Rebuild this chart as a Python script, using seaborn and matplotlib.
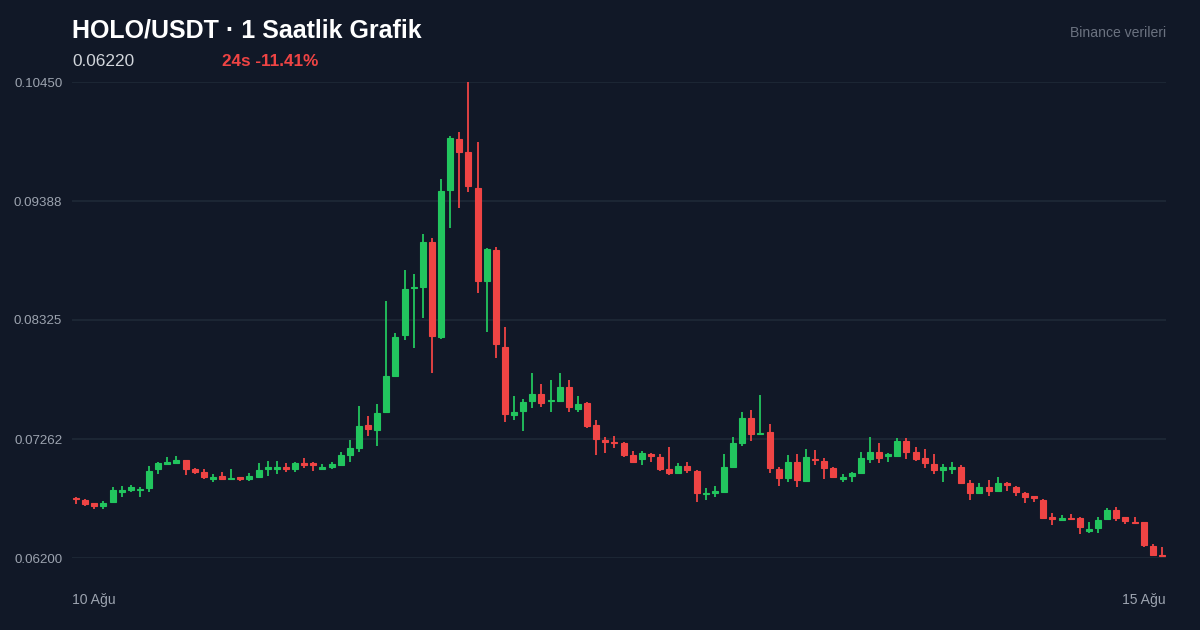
import matplotlib
matplotlib.use("Agg")
import matplotlib.pyplot as plt
import seaborn as sns
import numpy as np
import pandas as pd

# HOLO/USDT hourly candles, 10-15 Aug
opens = [0.06740, 0.06718, 0.06687, 0.06664, 0.06700, 0.06789, 0.06803, 0.06803, 0.06822, 0.06992,
         0.07042, 0.07051, 0.07072, 0.06992, 0.06971, 0.06903, 0.06932, 0.06903, 0.06921, 0.06903,
         0.06921, 0.06992, 0.06992, 0.07015, 0.06992, 0.07051, 0.07046, 0.06995, 0.07015, 0.07030,
         0.07120, 0.07185, 0.07388, 0.07343, 0.07501, 0.07825, 0.08191, 0.08608, 0.08622, 0.09019,
         0.08171, 0.09486, 0.09939, 0.09828, 0.09506, 0.08676, 0.08950, 0.08087, 0.07477, 0.07515,
         0.07605, 0.07664, 0.07599, 0.07605, 0.07724, 0.07533, 0.07581, 0.07385, 0.07254, 0.07238,
         0.07230, 0.07120, 0.07081, 0.07126, 0.07099, 0.06992, 0.06962, 0.07021, 0.06980, 0.06771,
         0.06783, 0.06792, 0.07010, 0.07230, 0.07447, 0.07307, 0.07328, 0.06995, 0.06912, 0.07060,
         0.06890, 0.07087, 0.07069, 0.07001, 0.06903, 0.06932, 0.06962, 0.07084, 0.07149, 0.07111,
         0.07113, 0.07247, 0.07149, 0.07090, 0.07039, 0.06986, 0.06995, 0.07010, 0.06867, 0.06778,
         0.06831, 0.06801, 0.06872, 0.06837, 0.06778, 0.06754, 0.06718, 0.06569, 0.06539, 0.06560,
         0.06560, 0.06444, 0.06465, 0.06546, 0.06629, 0.06563, 0.06524, 0.06519, 0.06307, 0.06227]
highs = [0.06742, 0.06731, 0.06691, 0.06709, 0.06831, 0.06843, 0.06852, 0.06831, 0.07021, 0.07053,
         0.07099, 0.07111, 0.07075, 0.07004, 0.06992, 0.06950, 0.06968, 0.06992, 0.06923, 0.06962,
         0.07051, 0.07069, 0.07069, 0.07051, 0.07060, 0.07090, 0.07060, 0.07039, 0.07060, 0.07149,
         0.07254, 0.07560, 0.07468, 0.07572, 0.08497, 0.08212, 0.08772, 0.08733, 0.09090, 0.09060,
         0.09581, 0.09971, 0.10001, 0.10450, 0.09917, 0.08971, 0.08980, 0.08260, 0.07649, 0.07620,
         0.07849, 0.07751, 0.07789, 0.07849, 0.07789, 0.07649, 0.07590, 0.07432, 0.07278, 0.07289,
         0.07232, 0.07158, 0.07158, 0.07135, 0.07129, 0.07188, 0.07051, 0.07060, 0.06982, 0.06822,
         0.06843, 0.07129, 0.07278, 0.07501, 0.07521, 0.07653, 0.07394, 0.07015, 0.07120, 0.07129,
         0.07171, 0.07164, 0.07090, 0.07015, 0.06950, 0.06971, 0.07149, 0.07278, 0.07230, 0.07135,
         0.07269, 0.07269, 0.07188, 0.07171, 0.07129, 0.07039, 0.07060, 0.07030, 0.06896, 0.06867,
         0.06896, 0.06921, 0.06881, 0.06843, 0.06792, 0.06755, 0.06724, 0.06599, 0.06584, 0.06593,
         0.06563, 0.06524, 0.06569, 0.06644, 0.06653, 0.06566, 0.06563, 0.06524, 0.06322, 0.06301]
lows = [0.06682, 0.06664, 0.06638, 0.06638, 0.06691, 0.06745, 0.06792, 0.06745, 0.06792, 0.06953,
        0.07040, 0.07039, 0.06941, 0.06950, 0.06903, 0.06881, 0.06900, 0.06900, 0.06890, 0.06890,
        0.06912, 0.06932, 0.06950, 0.06971, 0.06971, 0.07001, 0.06980, 0.06993, 0.06992, 0.07021,
        0.07060, 0.07149, 0.07292, 0.07203, 0.07498, 0.07819, 0.08147, 0.08078, 0.08340, 0.07855,
        0.08153, 0.09144, 0.09322, 0.09465, 0.08563, 0.08221, 0.07983, 0.07412, 0.07432, 0.07334,
        0.07542, 0.07551, 0.07501, 0.07603, 0.07501, 0.07501, 0.07363, 0.07120, 0.07135, 0.07185,
        0.07105, 0.07051, 0.07030, 0.07060, 0.06980, 0.06941, 0.06960, 0.06962, 0.06703, 0.06718,
        0.06742, 0.06790, 0.07001, 0.07203, 0.07247, 0.07305, 0.06962, 0.06843, 0.06881, 0.06831,
        0.06881, 0.07030, 0.06903, 0.06912, 0.06881, 0.06881, 0.06956, 0.07051, 0.07051, 0.07060,
        0.07111, 0.07081, 0.07069, 0.07001, 0.06950, 0.06881, 0.06950, 0.06867, 0.06718, 0.06771,
        0.06754, 0.06792, 0.06801, 0.06754, 0.06694, 0.06703, 0.06548, 0.06495, 0.06537, 0.06544,
        0.06414, 0.06426, 0.06421, 0.06544, 0.06533, 0.06504, 0.06513, 0.06296, 0.06224, 0.06206]
closes = [0.06727, 0.06682, 0.06660, 0.06688, 0.06807, 0.06807, 0.06834, 0.06812, 0.06977, 0.07051,
          0.07054, 0.07075, 0.06992, 0.06968, 0.06921, 0.06926, 0.06903, 0.06912, 0.06903, 0.06932,
          0.06986, 0.07015, 0.07015, 0.06992, 0.07046, 0.07028, 0.07028, 0.07010, 0.07037, 0.07120,
          0.07180, 0.07379, 0.07352, 0.07497, 0.07825, 0.08176, 0.08599, 0.08617, 0.09019, 0.08185,
          0.09477, 0.09948, 0.09822, 0.09524, 0.08676, 0.08959, 0.08108, 0.07486, 0.07506, 0.07596,
          0.07664, 0.07587, 0.07611, 0.07724, 0.07546, 0.07575, 0.07379, 0.07260, 0.07233, 0.07224,
          0.07122, 0.07060, 0.07135, 0.07111, 0.06992, 0.06962, 0.07021, 0.06986, 0.06783, 0.06783,
          0.06796, 0.07010, 0.07230, 0.07447, 0.07304, 0.07319, 0.07001, 0.06912, 0.07060, 0.06896,
          0.07099, 0.07075, 0.07001, 0.06921, 0.06921, 0.06962, 0.07090, 0.07149, 0.07090, 0.07129,
          0.07247, 0.07149, 0.07081, 0.07046, 0.06986, 0.07010, 0.07010, 0.06872, 0.06783, 0.06831,
          0.06801, 0.06867, 0.06849, 0.06792, 0.06742, 0.06733, 0.06560, 0.06546, 0.06554, 0.06546,
          0.06474, 0.06456, 0.06539, 0.06629, 0.06554, 0.06533, 0.06515, 0.06316, 0.06227, 0.06220]

y_ticks = [0.06200, 0.072625, 0.08325, 0.093875, 0.10450]
y_tick_labels = ["0.06200", "0.07262", "0.08325", "0.09388", "0.10450"]
x_labels = ["10 Ağu", "15 Ağu"]
title = "HOLO/USDT · 1 Saatlik Grafik"
last_price = "0.06220"
change_text = "24s -11.41%"
source_text = "Binance verileri"

BG = "#111827"
GRID = "#1f2937"
UP = "#22c55e"
DOWN = "#ef4444"
MUTED = "#9ca3af"

sns.set_theme(style="dark", rc={
    "figure.facecolor": BG,
    "axes.facecolor": BG,
    "axes.edgecolor": BG,
    "grid.color": GRID,
    "text.color": "white",
    "xtick.color": MUTED,
    "ytick.color": MUTED,
})
plt.rcParams["font.family"] = ["Liberation Sans", "DejaVu Sans"]

df = pd.DataFrame({"open": opens, "high": highs, "low": lows, "close": closes})
df["idx"] = np.arange(len(df))
df["up"] = df["close"] >= df["open"]
df["color"] = np.where(df["up"], UP, DOWN)

W, H = 1200, 630
fig = plt.figure(figsize=(12, 6.3), dpi=100)
ax = fig.add_axes([72 / W, 72 / H, 1094 / W, 476 / H])

# wicks
ax.vlines(df["idx"], df["low"], df["high"], colors=df["color"], linewidth=1.3, zorder=2)
# bodies
body_bottom = df[["open", "close"]].min(axis=1)
body_height = (df["close"] - df["open"]).abs()
ax.bar(df["idx"], body_height, bottom=body_bottom, width=0.66,
       color=df["color"], edgecolor=df["color"], linewidth=0.8, zorder=3)

ax.set_xlim(-0.45, len(df) - 0.55)
ax.set_ylim(0.062, 0.1045)
ax.set_yticks(y_ticks)
ax.set_yticklabels(y_tick_labels, fontsize=9.6)
ax.set_xticks([-0.45, len(df) - 0.55])
ax.set_xticklabels(x_labels, fontsize=10.1)
xl = ax.get_xticklabels()
xl[0].set_ha("left")
xl[1].set_ha("right")
ax.tick_params(axis="x", length=0, pad=25.5)
ax.tick_params(axis="y", length=0, pad=7)
ax.grid(axis="y", color=GRID, linewidth=1.2)
ax.grid(axis="x", visible=False)
sns.despine(ax=ax, left=True, bottom=True)
for lab in ax.get_xticklabels() + ax.get_yticklabels():
    lab.set_color(MUTED)

fig.text(72 / W, 1 - 30 / H, title, fontsize=18, fontweight="bold", color="white", va="center")
fig.text(72 / W, 1 - 61 / H, last_price, fontsize=12.4, color="#d1d5db", va="center")
fig.text(222 / W, 1 - 61 / H, change_text, fontsize=12.3, fontweight="bold", color=DOWN, va="center")
fig.text(1166 / W, 1 - 33 / H, source_text, fontsize=10.1, color="#6b7280", va="center", ha="right")

fig.savefig("out.png", dpi=100, facecolor=BG)
